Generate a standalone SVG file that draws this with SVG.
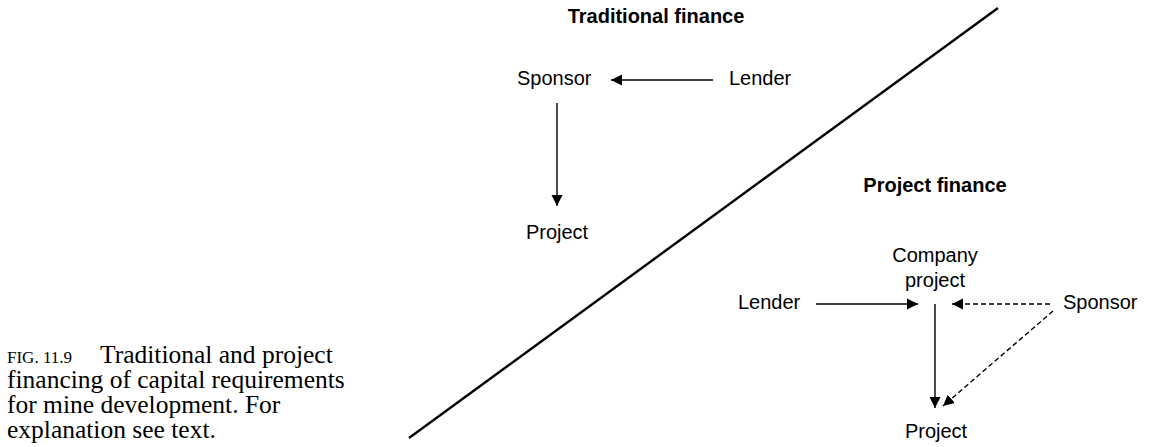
<svg xmlns="http://www.w3.org/2000/svg" width="1151" height="447" viewBox="0 0 1151 447">
  <style>
    .lbl { font-family: "Liberation Sans", Arial, sans-serif; font-size: 20px; fill: #000; }
    .ttl { font-family: "Liberation Sans", Arial, sans-serif; font-size: 20px; font-weight: bold; fill: #000; }
    .cap { font-family: "Liberation Serif", "Times New Roman", serif; font-size: 25.5px; fill: #000; }
    .capsc { font-size: 17px; }
    .arr { stroke: #000; stroke-width: 1.4; fill: none; marker-end: url(#ah); }
    .dash { stroke-dasharray: 5 3; }
  </style>
  <defs>
    <marker id="ah" markerUnits="userSpaceOnUse" markerWidth="12" markerHeight="12" viewBox="0 0 12 12" refX="11" refY="6" orient="auto">
      <path d="M0,0.5 L11,6 L0,11.5 Z" fill="#000"/>
    </marker>
  </defs>
  <rect width="1151" height="447" fill="#fff"/>

  <g id="caption">
    <text class="cap" x="7" y="363"><tspan class="capsc">FIG. 11.9</tspan><tspan x="100">Traditional and project</tspan></text>
    <text class="cap" x="7" y="388">financing of capital requirements</text>
    <text class="cap" x="7" y="413">for mine development. For</text>
    <text class="cap" x="7" y="438">explanation see text.</text>
  </g>

  <g id="divider">
    <line x1="409" y1="438" x2="998" y2="8" stroke="#000" stroke-width="2.4"/>
  </g>

  <g id="title-traditional"><text class="ttl" x="656" y="23" text-anchor="middle">Traditional finance</text></g>
  <g id="title-project"><text class="ttl" x="935" y="192" text-anchor="middle">Project finance</text></g>

  <g id="trad-sponsor"><text class="lbl" x="517" y="85">Sponsor</text></g>
  <g id="trad-lender"><text class="lbl" x="729" y="85">Lender</text></g>
  <g id="trad-project"><text class="lbl" x="557" y="239" text-anchor="middle">Project</text></g>

  <g id="pf-company"><text class="lbl" x="935" y="262" text-anchor="middle">Company</text><text class="lbl" x="935" y="287" text-anchor="middle">project</text></g>
  <g id="pf-lender"><text class="lbl" x="738" y="309">Lender</text></g>
  <g id="pf-sponsor"><text class="lbl" x="1063" y="309">Sponsor</text></g>
  <g id="pf-project"><text class="lbl" x="936" y="438" text-anchor="middle">Project</text></g>

  <g id="connectors">
    <line class="arr" x1="713" y1="80" x2="611" y2="80"/>
    <line class="arr" x1="557" y1="103" x2="557" y2="206"/>
    <line class="arr" x1="816" y1="304" x2="918" y2="304"/>
    <line class="arr" x1="935" y1="304" x2="935" y2="408"/>
    <line class="arr dash" x1="1050" y1="304" x2="952" y2="304"/>
    <line class="arr dash" x1="1053" y1="311" x2="943" y2="406"/>
  </g>
</svg>
